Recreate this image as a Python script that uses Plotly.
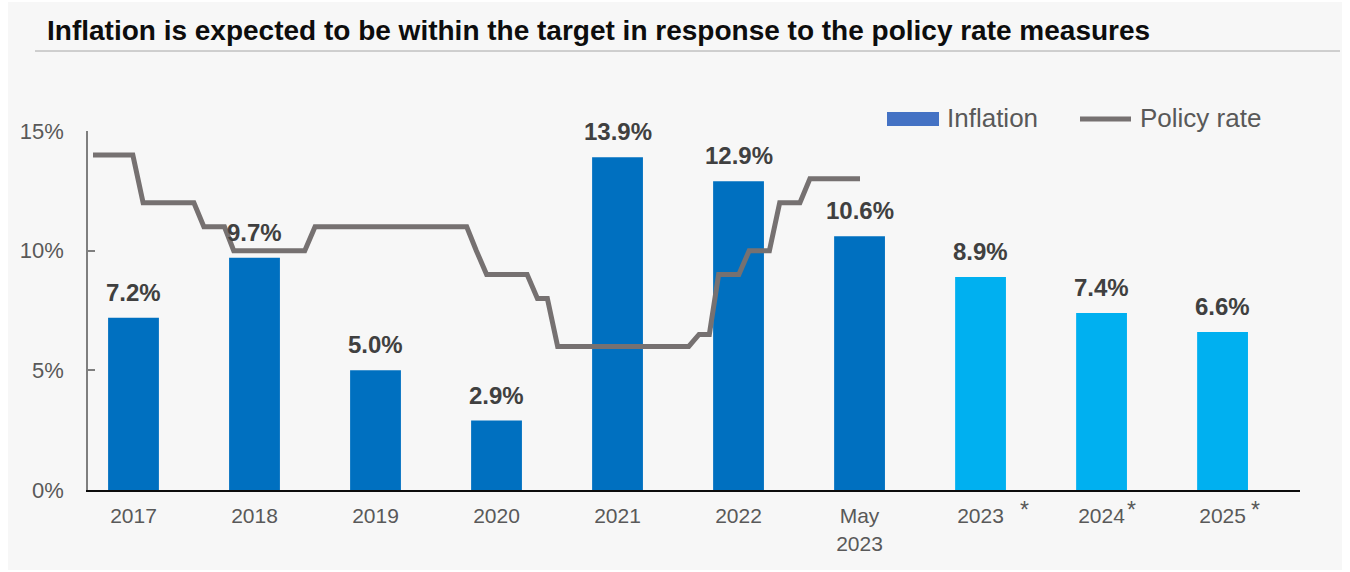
import plotly.graph_objects as go
import pandas as pd

# ---------------- data ----------------
categories = ["2017", "2018", "2019", "2020", "2021", "2022", "May<br>2023", "2023", "2024", "2025"]
inflation = [7.2, 9.7, 5.0, 2.9, 13.9, 12.9, 10.6, 8.9, 7.4, 6.6]
is_forecast = [False, False, False, False, False, False, False, True, True, True]

# monthly policy rate, Jan 2017 .. May 2023
policy_months = [d.strftime("%Y-%m-%d") for d in pd.date_range("2017-01-01", "2023-05-01", freq="MS")]
policy_rate = [
    14, 14, 14, 14, 14,                     # Jan-May 2017
    12, 12, 12, 12, 12, 12,                 # Jun-Nov 2017
    11, 11, 11,                             # Dec 2017-Feb 2018
    10, 10, 10, 10, 10, 10, 10, 10,         # Mar-Oct 2018
    11, 11,                                 # Nov-Dec 2018
    11, 11, 11, 11, 11, 11, 11, 11, 11, 11, 11, 11,  # 2019
    11, 11,                                 # Jan-Feb 2020
    10,                                     # Mar 2020
    9, 9, 9, 9, 9,                          # Apr-Aug 2020
    8, 8,                                   # Sep-Oct 2020
    6, 6,                                   # Nov-Dec 2020
    6, 6, 6, 6, 6, 6, 6, 6, 6, 6, 6, 6,     # 2021
    6.5, 6.5,                               # Jan-Feb 2022
    9, 9, 9,                                # Mar-May 2022
    10, 10, 10,                             # Jun-Aug 2022
    12, 12, 12,                             # Sep-Nov 2022
    13, 13, 13, 13, 13, 13,                 # Dec 2022-May 2023
]

title_text = "Inflation is expected to be within the target in response to the policy rate measures"
yticks = [0, 5, 10, 15]

# ---------------- style ----------------
FONT = "Liberation Sans, Arial, sans-serif"
ACTUAL = "#0070c0"
FORECAST = "#00b0f0"
LINE = "#767171"
TXT = "#595959"
BG = "#f7f7f7"

W, H = 1350, 572
L, R, T, B = 88, 50, 131, 82
PW, PH = W - L - R, H - T - B


def px(x):
    return (x - L) / PW


def py(y):
    return (H - B - y) / PH


fig = go.Figure()

fig.add_trace(go.Bar(
    x=categories, y=inflation,
    marker=dict(color=[FORECAST if f else ACTUAL for f in is_forecast], line=dict(width=0)),
    width=0.42, name="Inflation", showlegend=False, hoverinfo="x+y",
))

fig.add_trace(go.Scatter(
    x=policy_months, y=policy_rate, xaxis="x2", yaxis="y",
    mode="lines", line=dict(color=LINE, width=5), name="Policy rate", showlegend=False,
))

annotations = []
for i, v in enumerate(inflation):
    annotations.append(dict(
        x=i, y=v, xref="x", yref="y", text=f"<b>{v:.1f}%</b>", showarrow=False,
        yanchor="bottom", yshift=10, font=dict(family=FONT, size=24, color="#404040"),
    ))

# asterisks for forecast years
ast_shift = {7: 44, 8: 30, 9: 33}
for i, f in enumerate(is_forecast):
    if f:
        annotations.append(dict(
            x=i, y=0, xref="x", yref="y", text="*", showarrow=False,
            yanchor="middle", xanchor="center", xshift=ast_shift[i], yshift=-20,
            font=dict(family=FONT, size=23, color=TXT),
        ))

# legend (manual)
annotations.append(dict(x=px(945), y=py(118), xref="paper", yref="paper", text="Inflation",
                        showarrow=False, xanchor="left", yanchor="middle",
                        font=dict(family=FONT, size=26, color=TXT)))
annotations.append(dict(x=px(1138), y=py(118), xref="paper", yref="paper", text="Policy rate",
                        showarrow=False, xanchor="left", yanchor="middle",
                        font=dict(family=FONT, size=26, color=TXT)))

shapes = [
    dict(type="rect", xref="paper", yref="paper", x0=px(8), x1=px(1342), y0=py(570), y1=py(2),
         fillcolor=BG, line=dict(width=0), layer="below"),
    dict(type="line", xref="paper", yref="paper", x0=px(35), x1=px(1340), y0=py(51), y1=py(51),
         line=dict(color="#a6a6a6", width=1)),
    dict(type="rect", xref="paper", yref="paper", x0=px(887), x1=px(939), y0=py(126), y1=py(112),
         fillcolor="#4472c4", line=dict(width=0)),
    dict(type="line", xref="paper", yref="paper", x0=px(1080), x1=px(1131), y0=py(119), y1=py(119),
         line=dict(color=LINE, width=5)),
]

fig.update_layout(
    width=W, height=H, autosize=False,
    margin=dict(l=L, r=R, t=T, b=B, pad=0),
    paper_bgcolor="white", plot_bgcolor="rgba(0,0,0,0)",
    font=dict(family=FONT, size=21, color=TXT),
    title=dict(text=f"<b>{title_text}</b>", x=47 / W, xanchor="left", xref="container",
               y=1 - 30 / H, yanchor="middle", font=dict(family=FONT, size=28, color="#0d0d0d")),
    showlegend=False,
    xaxis=dict(type="category", range=[-0.376, 9.64], showgrid=False, zeroline=False,
               showline=True, linecolor="#0d0d0d", linewidth=2, ticks="",
               tickfont=dict(family=FONT, size=21, color=TXT), ticklabelstandoff=6),
    xaxis2=dict(type="date", overlaying="x", anchor="y", visible=False,
                range=["2016-12-16 22:00", "2026-12-16 17:00"]),
    yaxis=dict(range=[0, 15], tickvals=yticks, ticktext=[f"{t}%" for t in yticks],
               showgrid=False, zeroline=False, showline=True, linecolor="#7f7f7f", linewidth=1.5,
               ticks="inside", ticklen=7, tickcolor="#7f7f7f", tickwidth=1.5,
               tickfont=dict(family=FONT, size=22, color=TXT), ticklabelstandoff=18),
    annotations=annotations,
    shapes=shapes,
)

fig.write_html("out.html")
